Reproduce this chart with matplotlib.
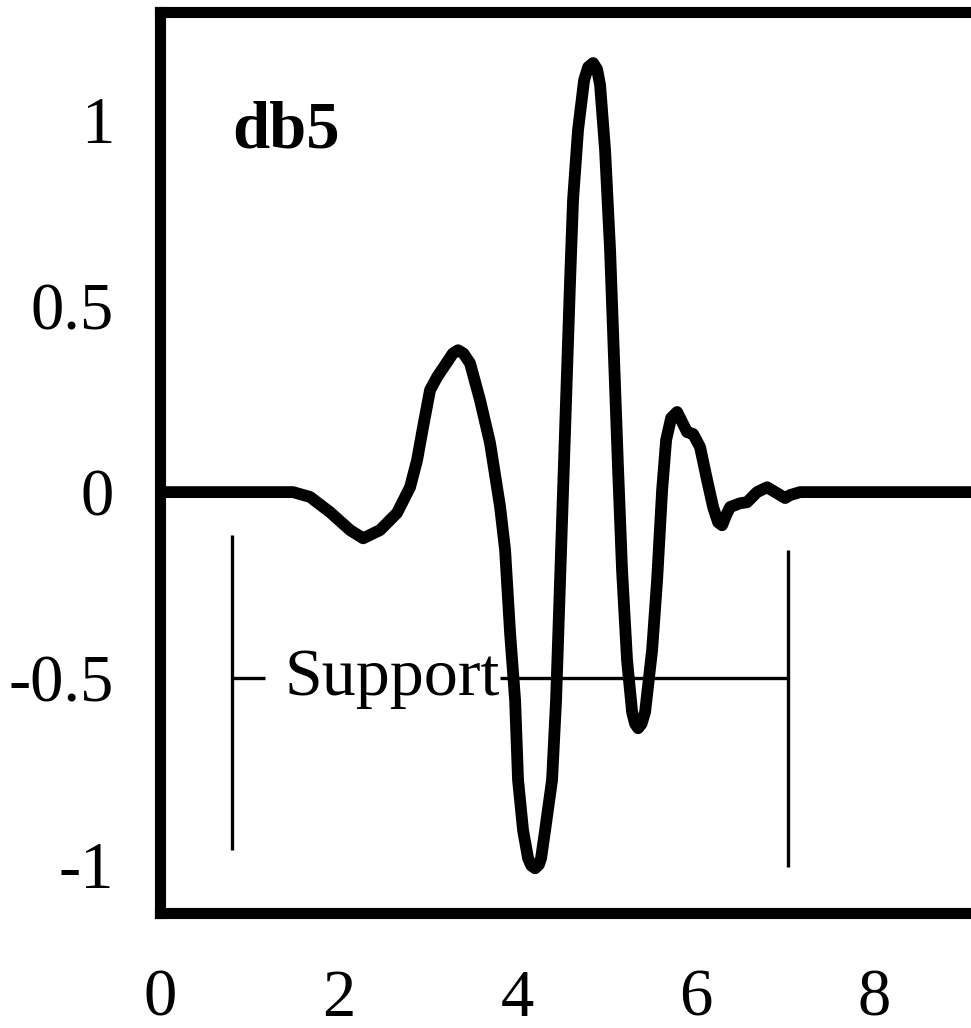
import numpy as np
import matplotlib
matplotlib.use("Agg")
import matplotlib.pyplot as plt

# db5 wavelet curve
wave_x = [0.0, 1.490, 1.681, 1.905, 2.129, 2.275, 2.465, 2.655, 2.801, 2.880,
          2.947, 3.025, 3.104, 3.216, 3.280, 3.339, 3.400, 3.473, 3.585, 3.697,
          3.810, 3.866, 3.922, 3.978, 4.011, 4.067, 4.123, 4.160, 4.202, 4.245,
          4.269, 4.314, 4.392, 4.437, 4.493, 4.549, 4.594, 4.627, 4.683, 4.751,
          4.796, 4.852, 4.897, 4.930, 4.986, 5.042, 5.087, 5.132, 5.176, 5.232,
          5.289, 5.322, 5.356, 5.395, 5.434, 5.513, 5.569, 5.625, 5.670, 5.726,
          5.793, 5.849, 5.905, 5.972, 6.050, 6.129, 6.196, 6.252, 6.297, 6.342,
          6.387, 6.499, 6.577, 6.689, 6.801, 6.913, 7.003, 7.059, 7.171, 9.3]
wave_y = [0.0, 0.0, -0.013, -0.054, -0.102, -0.124, -0.102, -0.056, 0.013, 0.086,
          0.175, 0.274, 0.309, 0.349, 0.372, 0.381, 0.372, 0.346, 0.247, 0.132,
          -0.040, -0.156, -0.379, -0.559, -0.773, -0.908, -0.983, -1.003, -1.010, -1.000,
          -0.983, -0.908, -0.773, -0.559, -0.156, 0.247, 0.569, 0.784, 0.972, 1.106,
          1.141, 1.152, 1.135, 1.093, 0.918, 0.650, 0.354, 0.059, -0.209, -0.451,
          -0.591, -0.622, -0.634, -0.622, -0.591, -0.424, -0.236, 0.005, 0.140, 0.199,
          0.215, 0.188, 0.161, 0.156, 0.121, 0.032, -0.040, -0.081, -0.089, -0.062,
          -0.040, -0.030, -0.027, 0.0, 0.013, -0.003, -0.016, -0.008, 0.0, 0.0]

# support marker
support_start = 0.807
support_end = 7.036
support_level = -0.5

xticks = [0, 2, 4, 6, 8]
yticks = [1, 0.5, 0, -0.5, -1]
ytick_labels = ["1", "0.5", "0", "-0.5", "-1"]

plt.rcParams["font.family"] = ["Liberation Serif", "DejaVu Serif"]

fig = plt.figure(figsize=(9.71, 10.28), dpi=100)
ax = fig.add_axes([0.1648, 0.1119, 0.8393, 0.8764])

ax.plot(wave_x, wave_y, color="black", lw=8.5, solid_joinstyle="round",
        solid_capstyle="round")

# support bracket
ax.vlines(support_start, -0.961, -0.115, color="black", lw=2.4)
ax.vlines(support_end, -1.007, -0.156, color="black", lw=2.4)
ax.hlines(support_level, support_start, 1.176, color="black", lw=2.4)
ax.hlines(support_level, 3.81, support_end, color="black", lw=2.4)
ax.text(1.40, support_level, "Support", fontsize=49, ha="left", va="center")

ax.text(0.807, 0.926, "db5", fontsize=48, fontweight="bold", ha="left",
        va="baseline")

ax.set_xlim(0, 9.13)
ax.set_ylim(-1.130, 1.289)
ax.set_xticks(xticks)
ax.set_yticks(yticks, labels=ytick_labels)
ax.tick_params(axis="both", length=0, labelsize=48)
ax.tick_params(axis="x", pad=40)
ax.tick_params(axis="y", pad=33)
for s in ax.spines.values():
    s.set_linewidth(8)
    s.set_capstyle("projecting")

fig.savefig("out.png", dpi=100, facecolor="white")
